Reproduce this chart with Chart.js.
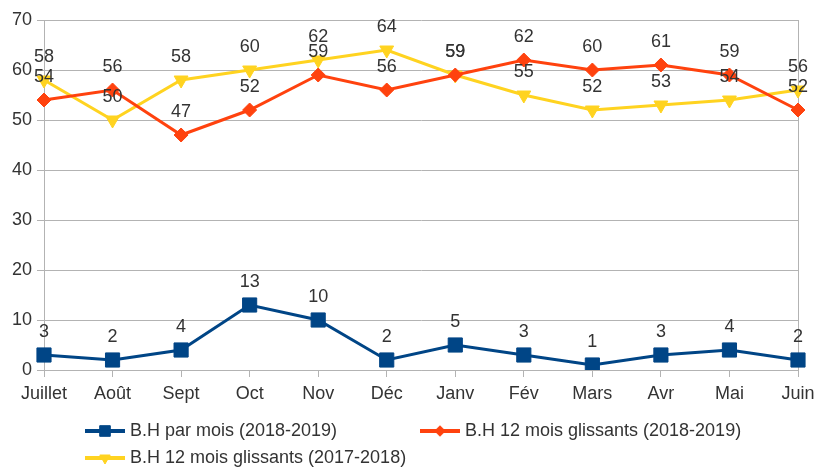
<!DOCTYPE html>
<html>
<head>
<meta charset="utf-8">
<script src="https://cdn.jsdelivr.net/npm/chart.js@4/dist/chart.umd.min.js"></script>
<style>
  html, body { margin: 0; padding: 0; background: #fff; }
  #wrap { width: 815px; height: 468px; position: relative; }
</style>
</head>
<body>
<div id="wrap"><canvas id="bhChart" width="815" height="468"></canvas></div>
<script>
// Months (juillet -> juin)
const months = ['Juillet', 'Août', 'Sept', 'Oct', 'Nov', 'Déc', 'Janv', 'Fév', 'Mars', 'Avr', 'Mai', 'Juin'];

// Series
const bhParMois = [3, 2, 4, 13, 10, 2, 5, 3, 1, 3, 4, 2];
const bhGlissants1819 = [54, 56, 47, 52, 59, 56, 59, 62, 60, 61, 59, 52];
const bhGlissants1718 = [58, 50, 58, 60, 62, 64, 59, 55, 52, 53, 54, 56];

const yTicks = [0, 10, 20, 30, 40, 50, 60, 70];

const FONT = 'Liberation Sans, Arial, sans-serif';
const TEXT = '#333333';
const GRID = '#b3b3b3';

// value labels above each point
const valueLabels = {
  id: 'valueLabels',
  afterDatasetsDraw(chart) {
    const ctx = chart.ctx;
    ctx.save();
    ctx.font = '18px ' + FONT;
    ctx.fillStyle = TEXT;
    ctx.textAlign = 'center';
    ctx.textBaseline = 'middle';
    chart.data.datasets.forEach((ds, i) => {
      chart.getDatasetMeta(i).data.forEach((pt, j) => {
        ctx.fillText(String(ds.data[j]), pt.x, pt.y - 23);
      });
    });
    ctx.restore();
  }
};

// legend in LibreOffice style: two columns, left-aligned rows
const bottomLegend = {
  id: 'bottomLegend',
  afterDraw(chart) {
    const ctx = chart.ctx;
    const slots = [[85, 431], [420, 431], [85, 458]];
    ctx.save();
    ctx.font = '18px ' + FONT;
    ctx.textBaseline = 'middle';
    chart.data.datasets.forEach((ds, i) => {
      const [x, y] = slots[i];
      ctx.strokeStyle = ds.borderColor;
      ctx.lineWidth = 4;
      ctx.beginPath();
      ctx.moveTo(x, y);
      ctx.lineTo(x + 40, y);
      ctx.stroke();
      ctx.fillStyle = ds.backgroundColor;
      ctx.strokeStyle = ds.borderColor;
      ctx.lineWidth = 1;
      Chart.helpers.drawPoint(ctx, {
        pointStyle: ds.pointStyle,
        radius: ds.pointRadius * 0.75,
        rotation: ds.rotation || 0,
        borderWidth: 1
      }, x + 20, y);
      ctx.fillStyle = TEXT;
      ctx.fillText(ds.label, x + 45, y);
    });
    ctx.restore();
  }
};

new Chart(document.getElementById('bhChart'), {
  type: 'line',
  data: {
    labels: months,
    datasets: [
      {
        label: 'B.H par mois (2018-2019)',
        data: bhParMois,
        borderColor: '#004586',
        backgroundColor: '#004586',
        borderWidth: 3,
        pointStyle: 'rect',
        pointRadius: 10,
        pointBorderWidth: 1,
        tension: 0
      },
      {
        label: 'B.H 12 mois glissants (2018-2019)',
        data: bhGlissants1819,
        borderColor: '#ff420e',
        backgroundColor: '#ff420e',
        borderWidth: 3,
        pointStyle: 'rectRot',
        pointRadius: 7,
        pointBorderWidth: 1,
        tension: 0
      },
      {
        label: 'B.H 12 mois glissants (2017-2018)',
        data: bhGlissants1718,
        borderColor: '#ffd320',
        backgroundColor: '#ffd320',
        borderWidth: 3,
        pointStyle: 'triangle',
        rotation: 180,
        pointRotation: 180,
        pointRadius: 8,
        pointBorderWidth: 1,
        tension: 0
      }
    ]
  },
  options: {
    responsive: false,
    animation: false,
    layout: { padding: { top: 20, right: 17, bottom: 60, left: 0 } },
    plugins: {
      legend: { display: false },
      tooltip: { enabled: false }
    },
    scales: {
      x: {
        offset: false,
        afterFit(scale) {
          scale.height = 38;
          scale.paddingLeft = 0;
          scale.paddingRight = 0;
        },
        grid: {
          color: c => (c.index === 0 || c.index === months.length - 1) ? GRID : 'rgba(0,0,0,0)',
          tickColor: GRID,
          tickLength: 7
        },
        border: { color: GRID },
        ticks: {
          color: TEXT,
          font: { family: FONT, size: 18 },
          padding: 6,
          maxRotation: 0,
          autoSkip: false
        }
      },
      y: {
        min: 0,
        max: 70,
        afterFit(scale) {
          scale.width = 44;
          scale.paddingTop = 0;
          scale.paddingBottom = 0;
        },
        afterBuildTicks(scale) { scale.ticks = yTicks.map(v => ({ value: v })); },
        grid: { color: GRID, tickColor: GRID, tickLength: 7 },
        border: { color: GRID },
        ticks: {
          color: TEXT,
          font: { family: FONT, size: 18 },
          padding: 5
        }
      }
    }
  },
  plugins: [valueLabels, bottomLegend]
});
</script>
</body>
</html>
